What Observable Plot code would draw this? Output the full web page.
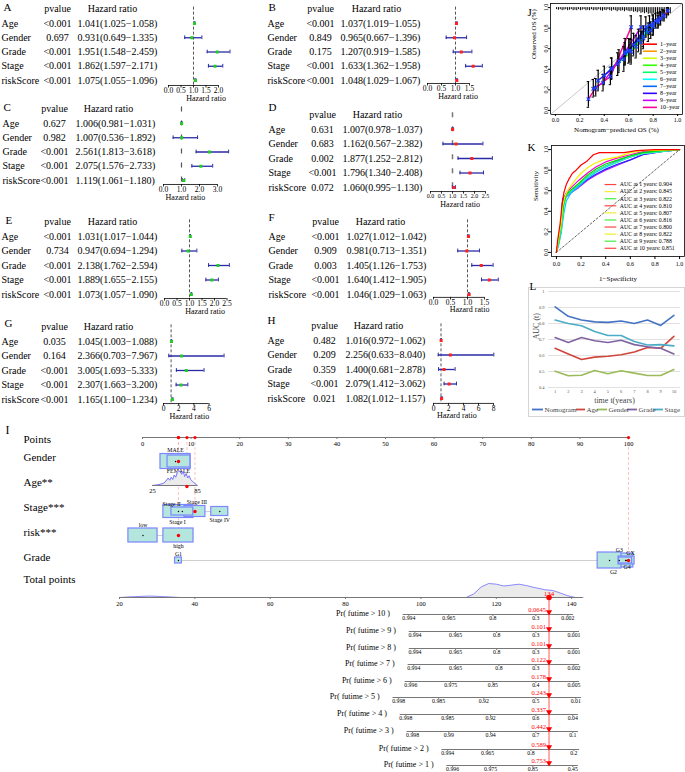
<!DOCTYPE html>
<html><head><meta charset="utf-8">
<script src="https://cdn.jsdelivr.net/npm/d3@7"></script>
<script src="https://cdn.jsdelivr.net/npm/@observablehq/plot@0.6"></script>
<style>
html,body{margin:0;padding:0;background:#fff;overflow:hidden;}
#fig{position:relative;width:685px;height:772px;overflow:hidden;font-family:"Liberation Serif",serif;}
#fig svg text{font-family:"Liberation Serif","Times New Roman",serif;}
#lbox{position:absolute;left:528px;top:287px;width:157px;height:130px;border:1px solid #d4d4d4;box-sizing:border-box;}
</style></head><body><div id="fig"><div id="lbox"></div></div>
<script>
// ================= DATA =================
const forestVars = ["Age","Gender","Grade","Stage","riskScore"];
// A
const pvalA=["<0.001","0.697","<0.001","<0.001","<0.001"], hrA=[1.041,0.931,1.951,1.862,1.075], loA=[1.025,0.649,1.548,1.597,1.055], hiA=[1.058,1.335,2.459,2.171,1.096];
// B
const pvalB=["<0.001","0.849","0.175","<0.001","<0.001"], hrB=[1.037,0.965,1.207,1.633,1.048], loB=[1.019,0.667,0.919,1.362,1.029], hiB=[1.055,1.396,1.585,1.958,1.067];
// C
const pvalC=["0.627","0.982","<0.001","<0.001","<0.001"], hrC=[1.006,1.007,2.561,2.075,1.119], loC=[0.981,0.536,1.813,1.576,1.061], hiC=[1.031,1.892,3.618,2.733,1.180];
// D
const pvalD=["0.631","0.683","0.002","<0.001","0.072"], hrD=[1.007,1.162,1.877,1.796,1.060], loD=[0.978,0.567,1.252,1.340,0.995], hiD=[1.037,2.382,2.812,2.408,1.130];
// E
const pvalE=["<0.001","0.734","<0.001","<0.001","<0.001"], hrE=[1.031,0.947,2.138,1.889,1.073], loE=[1.017,0.694,1.762,1.655,1.057], hiE=[1.044,1.294,2.594,2.155,1.090];
// F
const pvalF=["<0.001","0.909","0.003","<0.001","<0.001"], hrF=[1.027,0.981,1.405,1.640,1.046], loF=[1.012,0.713,1.126,1.412,1.029], hiF=[1.042,1.351,1.753,1.905,1.063];
// G
const pvalG=["0.035","0.164","<0.001","<0.001","<0.001"], hrG=[1.045,2.366,3.005,2.307,1.165], loG=[1.003,0.703,1.693,1.663,1.100], hiG=[1.088,7.967,5.333,3.200,1.234];
// H
const pvalH=["0.482","0.209","0.359","<0.001","0.021"], hrH=[1.016,2.256,1.400,2.079,1.082], loH=[0.972,0.633,0.681,1.412,1.012], hiH=[1.062,8.040,2.878,3.062,1.157];
const ticksA=[0,0.5,1,1.5,2], ticksB=[0,0.5,1,1.5], ticksC=[0,1,2,3], ticksD=[0,0.5,1,1.5,2,2.5],
      ticksE=[0,0.5,1,1.5,2,2.5], ticksF=[0,0.5,1,1.5], ticksG=[0,2,4,6], ticksH=[0,2,4,6,8];

// J calibration
const calibYears=["1\u2212year","2\u2212year","3\u2212year","4\u2212year","5\u2212year","6\u2212year","7\u2212year","8\u2212year","9\u2212year","10\u2212year"];
const calibPred=[[0.80,0.86,0.89,0.92],[0.70,0.78,0.84,0.88],[0.62,0.72,0.80,0.86],[0.56,0.66,0.76,0.84],[0.51,0.61,0.72,0.82],
  [0.46,0.57,0.68,0.80],[0.40,0.52,0.64,0.77],[0.35,0.46,0.60,0.74],[0.31,0.39,0.57,0.70],[0.27,0.33,0.45,0.62]];
const calibObs=[[0.83,0.89,0.92,0.97],[0.66,0.78,0.86,0.93],[0.57,0.70,0.81,0.90],[0.50,0.62,0.76,0.88],[0.45,0.58,0.72,0.87],
  [0.41,0.55,0.68,0.85],[0.34,0.48,0.64,0.83],[0.29,0.40,0.58,0.81],[0.21,0.27,0.57,0.81],[0.11,0.22,0.33,0.81]];
const calibLo=[[0.74,0.83,0.87,0.93],[0.55,0.70,0.80,0.88],[0.45,0.60,0.73,0.84],[0.38,0.51,0.67,0.81],[0.34,0.47,0.62,0.80],
  [0.31,0.44,0.57,0.77],[0.25,0.37,0.53,0.74],[0.19,0.30,0.46,0.71],[0.13,0.19,0.45,0.70],[0.03,0.14,0.25,0.70]];
const calibHi=[[0.92,0.95,0.97,1.0],[0.77,0.86,0.92,0.98],[0.69,0.80,0.89,0.96],[0.62,0.73,0.85,0.95],[0.56,0.69,0.82,0.94],
  [0.51,0.66,0.79,0.93],[0.43,0.59,0.75,0.92],[0.39,0.51,0.70,0.91],[0.30,0.35,0.70,0.92],[0.28,0.31,0.42,0.92]];
const spikePred=[0.01,0.025,0.04,0.055,0.07,0.085,0.1,0.115,0.13,0.145,0.16,0.175,0.19,0.205,0.22,0.235,0.25,0.265,0.28,0.295,
  0.31,0.325,0.34,0.355,0.37,0.385,0.4,0.415,0.43,0.445,0.46,0.475,0.49,0.505,0.52,0.535,0.55,0.565,0.58,0.595,
  0.61,0.625,0.64,0.655,0.67,0.685,0.7,0.715,0.73,0.745,0.76,0.775,0.79,0.805,0.82,0.835,0.85,0.865,0.88,0.895,0.91,0.925,0.94];
const spikeLen=[0.02,0.025,0.02,0.03,0.025,0.02,0.03,0.025,0.02,0.03,0.025,0.03,0.02,0.03,0.025,0.02,0.03,0.025,0.03,0.02,
  0.03,0.025,0.03,0.02,0.03,0.035,0.025,0.03,0.02,0.03,0.035,0.025,0.03,0.04,0.03,0.035,0.03,0.04,0.03,0.035,
  0.04,0.035,0.045,0.04,0.05,0.04,0.055,0.05,0.06,0.05,0.065,0.06,0.07,0.06,0.08,0.07,0.09,0.08,0.1,0.09,0.11,0.08,0.06];

// K ROC
const rocAUC=[0.904,0.845,0.822,0.810,0.807,0.816,0.800,0.822,0.788,0.851];
const rocCurves=[
 [[0,0],[0.01,0.12],[0.02,0.2],[0.03,0.28],[0.04,0.4],[0.05,0.5],[0.06,0.58],[0.08,0.66],[0.1,0.71],[0.13,0.77],[0.16,0.8],[0.2,0.85],[0.25,0.89],[0.3,0.95],[0.35,0.97],[0.55,0.97],[0.65,0.99],[0.8,1],[1,1]],
 [[0,0],[0.02,0.15],[0.04,0.3],[0.05,0.45],[0.07,0.55],[0.1,0.62],[0.15,0.7],[0.2,0.77],[0.25,0.82],[0.3,0.86],[0.38,0.9],[0.5,0.93],[0.6,0.97],[0.7,0.99],[1,1]],
 [[0,0],[0.02,0.12],[0.04,0.28],[0.06,0.47],[0.08,0.56],[0.12,0.61],[0.18,0.67],[0.25,0.75],[0.32,0.81],[0.4,0.86],[0.5,0.9],[0.6,0.94],[0.7,0.97],[0.85,0.99],[1,1]],
 [[0,0],[0.02,0.1],[0.04,0.25],[0.06,0.45],[0.08,0.55],[0.12,0.6],[0.18,0.66],[0.25,0.73],[0.32,0.79],[0.4,0.84],[0.5,0.88],[0.6,0.93],[0.7,0.96],[0.85,0.98],[1,1]],
 [[0,0],[0.02,0.08],[0.04,0.2],[0.06,0.38],[0.08,0.5],[0.12,0.58],[0.18,0.64],[0.25,0.72],[0.32,0.78],[0.4,0.83],[0.5,0.88],[0.6,0.93],[0.7,0.96],[0.85,0.98],[1,1]],
 [[0,0],[0.02,0.1],[0.04,0.22],[0.05,0.45],[0.08,0.55],[0.12,0.59],[0.18,0.65],[0.25,0.73],[0.32,0.79],[0.4,0.84],[0.5,0.89],[0.6,0.93],[0.7,0.97],[0.85,0.99],[1,1]],
 [[0,0],[0.02,0.12],[0.04,0.25],[0.05,0.5],[0.08,0.56],[0.12,0.59],[0.18,0.64],[0.25,0.71],[0.32,0.76],[0.4,0.81],[0.5,0.86],[0.6,0.9],[0.7,0.95],[0.85,0.98],[1,1]],
 [[0,0],[0.02,0.13],[0.04,0.28],[0.05,0.52],[0.08,0.57],[0.12,0.6],[0.18,0.66],[0.25,0.73],[0.32,0.79],[0.4,0.84],[0.5,0.89],[0.6,0.93],[0.7,0.97],[0.85,0.99],[1,1]],
 [[0,0],[0.02,0.11],[0.04,0.24],[0.05,0.48],[0.08,0.54],[0.12,0.58],[0.18,0.63],[0.25,0.7],[0.32,0.75],[0.4,0.8],[0.5,0.85],[0.6,0.9],[0.7,0.95],[0.85,0.98],[1,1]],
 [[0,0],[0.02,0.15],[0.04,0.3],[0.05,0.5],[0.08,0.58],[0.12,0.63],[0.18,0.7],[0.25,0.77],[0.32,0.83],[0.4,0.88],[0.5,0.92],[0.6,0.95],[0.7,0.98],[0.85,0.99],[1,1]]
];

// L time-dependent AUC
const aucYears=[1,2,3,4,5,6,7,8,9,10];
const aucSeries=["Nomogram","Age","Gender","Grade","Stage"];
const aucNomogram=[0.904,0.845,0.822,0.810,0.807,0.816,0.800,0.822,0.788,0.851];
const aucAge=[0.645,0.610,0.575,0.590,0.595,0.605,0.622,0.650,0.645,0.720];
const aucGender=[0.502,0.473,0.477,0.506,0.486,0.505,0.490,0.475,0.475,0.512];
const aucGrade=[0.712,0.682,0.712,0.692,0.681,0.695,0.668,0.655,0.645,0.610];
const aucStage=[0.822,0.800,0.786,0.750,0.725,0.725,0.687,0.666,0.668,0.660];
const aucTicks=[0.4,0.5,0.6,0.7,0.8,0.9,1.0];

// I nomogram
const pointTicks=[0,10,20,30,40,50,60,70,80,90,100];
const genderLevels=["MALE","FEMALE"], genderPts=[6.8,7.5];
const ageTicks=[25,85], ageTickPts=[2.06,11.3];
const ageDensAge=[25,30,35,40,43,46,48,50,52,54,56,58,60,62,64,66,68,70,72,74,76,78,80,83,85];
const ageDensVal=[0,0.03,0.08,0.15,0.3,0.5,0.35,0.55,0.4,0.7,0.55,0.85,1.0,0.9,0.75,0.95,0.6,0.8,0.5,0.65,0.4,0.3,0.2,0.08,0];
const stageLevels=["Stage I","Stage II","Stage III","Stage IV"], stagePts=[7.4,8.2,10.8,15.9];
const riskLevels=["low","high"], riskPts=[0.1,7.4];
const gradeLevels=["G1","G2","G3","GX","G4"], gradePts=[7.4,96.1,98.1,99.6,99.4];
const selGender=7.4, selAge=71, selStage=10.8, selRisk=7.4, selGrade=100;
const totalTicks=[20,40,60,80,100,120,140], totalTickPts=[-4.73,88.3];
const totDensTP=[20,24,28,32,36,112,114,116,118,120,122,124,126,128,130,133,135,137,139,141,143];
const totDensVal=[0,0.06,0.1,0.06,0,0,0.25,0.75,1.0,0.95,0.82,0.88,0.95,0.85,0.72,0.55,0.5,0.32,0.12,0,0];
const totalScore=134;
const prLabels=["Pr( futime > 10 )","Pr( futime > 9 )","Pr( futime > 8 )","Pr( futime > 7 )","Pr( futime > 6 )",
  "Pr( futime > 5 )","Pr( futime > 4 )","Pr( futime > 3 )","Pr( futime > 2 )","Pr( futime > 1 )"];
const prTickTP=[[96.8,107.4,119.1,130.5,139.0],[98.4,109.2,120.1,130.5,140.6],[98.4,109.2,120.1,130.5,140.6],
  [98.1,109.2,120.7,130.5,140.6],[97.3,107.9,119.1,130.5,140.6],[94.1,104.7,116.7,130.5,141.1],
  [96.0,107.1,118.5,130.5,140.3],[97.8,107.4,118.5,130.5,140.3],[107.1,117.7,129.2,140.6],[108.4,118.5,129.7,140.3]];
const prTickLab=[["0.994","0.965","0.8","0.3","0.002"],["0.994","0.965","0.8","0.3","0.001"],["0.994","0.965","0.8","0.3","0.001"],
  ["0.994","0.965","0.8","0.3","0.002"],["0.996","0.975","0.85","0.4","0.005"],["0.998","0.985","0.92","0.5","0.01"],
  ["0.998","0.985","0.92","0.6","0.04"],["0.998","0.99","0.94","0.7","0.1"],["0.994","0.965","0.8","0.2"],["0.996","0.975","0.85","0.45"]];
const prPred=["0.0645","0.101","0.101","0.122","0.178","0.243","0.337","0.442","0.589","0.753"];

// ================= STYLE / LAYOUT =================
const FONT='"Liberation Serif","Times New Roman",serif';
const fig=document.getElementById("fig");
function place(el,left,top){el.style.position="absolute";el.style.left=left+"px";el.style.top=top+"px";fig.appendChild(el);return el;}
const base={fontFamily:FONT,background:"transparent",overflow:"visible",color:"#000"};
const CI="#2a2aa6";
const rainbow10=["#FF0000","#FF9900","#CCFF00","#33FF00","#00FF66","#00FFFF","#0066FF","#3300FF","#CC00FF","#FF0099"];
const rocColors=["#ff0000","#f2f200","#00e000","#33ff99","#00ccff","#3399ff","#2222ff","#7a00ff","#bb22ff","#ff00cc"];
const rocLegendColors=["#ff4444","#eeee33","#44ee44"];
const aucColors=["#4472C4","#D0453C","#9BBB59","#8064A2","#4BACC6"];
const FS=10;

// ================= FOREST PANELS =================
function forest(c){
  const rows=forestVars.map((v,k)=>({i:k+1,v,p:c.p[k],hr:c.hr[k],lo:c.lo[k],hi:c.hi[k]}));
  const top=c.ageY-30, y0=30-c.sp, ax=c.ax, f3=d3.format(".3f");
  const lastT=c.ticks[c.ticks.length-1];
  const svg=Plot.plot({
    width:250,height:120,margin:0,
    x:{domain:[0,1],range:[c.x0,c.x0+c.ppu],axis:null},
    y:{domain:[0,5],range:[y0,y0+5*c.sp],axis:null},
    style:{...base,fontSize:"10px"},
    marks:[
      Plot.text([c.title],{frameAnchor:"left",dx:c.tx,y:()=>c.titleIdx,text:d=>d,textAnchor:"start",fontSize:11}),
      Plot.text(["pvalue"],{frameAnchor:"left",dx:c.colP,y:()=>0,text:d=>d,textAnchor:"middle",fontSize:FS}),
      Plot.text(["Hazard ratio"],{frameAnchor:"left",dx:c.colH,y:()=>0,text:d=>d,textAnchor:"middle",fontSize:FS}),
      Plot.text(rows,{frameAnchor:"left",dx:c.colL,y:"i",text:"v",textAnchor:"start",fontSize:FS}),
      Plot.text(rows,{frameAnchor:"left",dx:c.colP,y:"i",text:"p",textAnchor:"middle",fontSize:FS}),
      Plot.text(rows,{frameAnchor:"left",dx:c.colR,y:"i",text:d=>`${f3(d.hr)}(${f3(d.lo)}\u2212${f3(d.hi)})`,textAnchor:"start",fontSize:FS}),
      Plot.ruleX([1],{y1:-0.15,y2:ax,stroke:c.dashC,strokeWidth:c.dashW,strokeDasharray:c.dash}),
      Plot.ruleY(rows,{y:"i",x1:"lo",x2:"hi",stroke:CI,strokeWidth:1.3}),
      Plot.ruleX(rows,{x:"lo",y1:d=>d.i-0.13,y2:d=>d.i+0.13,stroke:CI,strokeWidth:1}),
      Plot.ruleX(rows,{x:"hi",y1:d=>d.i-0.13,y2:d=>d.i+0.13,stroke:CI,strokeWidth:1}),
      Plot.dot(rows,{x:"hr",y:"i",symbol:"square",r:1.7,fill:c.pt}),
      Plot.ruleY([ax],{x1:c.ticks[0],x2:lastT,stroke:"#000",strokeWidth:0.8}),
      Plot.ruleX(c.ticks,{x:d=>d,y1:ax,y2:ax+0.18,stroke:"#000",strokeWidth:0.8}),
      Plot.text(c.ticks,{x:d=>d,y:()=>ax,dy:5,text:c.fmt,fontSize:c.tickFs||7.5}),
      Plot.text(["Hazard ratio"],{x:()=>c.xlabC,y:()=>ax,dy:12.5,text:d=>d,fontSize:8})
    ]
  });
  place(svg,c.left,top);
}
const f1=d3.format(".1f"), f0=d=>String(d);
const green="#22cc22", red="#ff2020";
forest({title:"A",left:0,ageY:23,sp:14.25,ax:5.35,titleIdx:-0.1,tx:3,colL:1,colP:57,colR:77,colH:112,x0:168,ppu:25,ticks:ticksA,fmt:f1,xlabC:1.5,
  p:pvalA,hr:hrA,lo:loA,hi:hiA,pt:green,dash:"3,2",dashW:0.9,dashC:"#444"});
forest({title:"B",left:250,ageY:23,sp:14.25,ax:5.21,titleIdx:-0.1,tx:18,colL:17,colP:70,colR:90,colH:126,x0:177,ppu:28,ticks:ticksB,fmt:f1,xlabC:1.09,
  p:pvalB,hr:hrB,lo:loB,hi:hiB,pt:red,dash:"3,2",dashW:0.9,dashC:"#444"});
forest({title:"C",left:0,ageY:123,sp:14.25,ax:5.28,titleIdx:-0.1,tx:3,colL:2,colP:54,colR:75,colH:108,x0:163,ppu:18,ticks:ticksC,fmt:f1,xlabC:1.22,
  p:pvalC,hr:hrC,lo:loC,hi:hiC,pt:green,dash:"5,9",dashW:1.2,dashC:"#555"});
forest({title:"D",left:250,ageY:129,sp:14.5,ax:5.28,titleIdx:-0.5,tx:18,colL:18,colP:72,colR:92,colH:127,x0:180,ppu:22,ticks:ticksD,fmt:f1,xlabC:1.35,tickFs:6,
  p:pvalD,hr:hrD,lo:loD,hi:hiD,pt:red,dash:"5,9",dashW:1.5,dashC:"#777"});
forest({title:"E",left:0,ageY:236,sp:14.5,ax:5.28,titleIdx:-0.1,tx:5,colL:1,colP:57,colR:77,colH:112,x0:164,ppu:25,ticks:ticksE,fmt:f1,xlabC:1.62,
  p:pvalE,hr:hrE,lo:loE,hi:hiE,pt:green,dash:"3,2",dashW:0.9,dashC:"#444"});
forest({title:"F",left:250,ageY:236,sp:14.5,ax:5.2,titleIdx:-0.3,tx:18,colL:18,colP:75,colR:96,colH:130,x0:183,ppu:34,ticks:ticksF,fmt:f1,xlabC:1.06,
  p:pvalF,hr:hrF,lo:loF,hi:hiF,pt:red,dash:"3,2",dashW:0.9,dashC:"#444"});
forest({title:"G",left:0,ageY:341,sp:14.5,ax:5.28,titleIdx:-0.25,tx:4,colL:1,colP:54,colR:77,colH:108,x0:163,ppu:7.6,ticks:ticksG,fmt:f0,xlabC:3.4,
  p:pvalG,hr:hrG,lo:loG,hi:hiG,pt:green,dash:"3,2",dashW:0.9,dashC:"#444"});
forest({title:"H",left:250,ageY:340,sp:14.5,ax:5.34,titleIdx:-0.35,tx:17,colL:17,colP:74,colR:95,colH:128,x0:183,ppu:7.5,ticks:ticksH,fmt:f0,xlabC:3.1,
  p:pvalH,hr:hrH,lo:loH,hi:hiH,pt:red,dash:"3,2",dashW:0.9,dashC:"#444"});

// ================= J calibration =================
(function(){
  const data=calibPred.flatMap((ps,k)=>ps.map((p,j)=>({year:calibYears[k],col:rainbow10[k],pred:p,obs:calibObs[k][j],lo:calibLo[k][j],hi:calibHi[k][j]})));
  const spikes=spikePred.map((p,k)=>({p,len:spikeLen[k]}));
  const leg=calibYears.map((y,k)=>({y,k,col:rainbow10[k],ly:0.644-k*0.0683}));
  const t=[0,0.2,0.4,0.6,0.8,1];
  const svg=Plot.plot({
    width:185,height:130,marginLeft:50,marginRight:3,marginTop:3,marginBottom:16,
    x:{domain:[-0.04,1.04]},y:{domain:[-0.04,1.04]},color:{type:"identity"},
    style:{...base,fontSize:"6px"},
    marks:[
      Plot.frame({stroke:"#000",strokeWidth:0.8}),
      Plot.line([[-0.04,-0.04],[1.04,1.04]],{stroke:"#c8c8c8",strokeWidth:1}),
      Plot.ruleX(spikes,{x:"p",y1:()=>1.0,y2:d=>1.0-d.len,stroke:"#000",strokeWidth:1}),
      Plot.line(data,{x:"pred",y:"obs",z:"year",stroke:"col",strokeWidth:1.4}),
      Plot.ruleX(data,{x:"pred",y1:"lo",y2:"hi",stroke:"#000",strokeWidth:1.2}),
      Plot.ruleY(data,{y:"lo",x1:d=>d.pred-0.01,x2:d=>d.pred+0.01,stroke:"#000",strokeWidth:1}),
      Plot.ruleY(data,{y:"hi",x1:d=>d.pred-0.01,x2:d=>d.pred+0.01,stroke:"#000",strokeWidth:1}),
      Plot.dot(data,{x:"pred",y:"obs",symbol:"times",r:1.8,stroke:"#1f3fff",strokeWidth:1.1}),
      Plot.ruleY(leg,{y:"ly",x1:()=>0.72,x2:()=>0.835,stroke:"col",strokeWidth:1.6}),
      Plot.text(leg,{x:()=>0.855,y:"ly",text:"y",textAnchor:"start",fontSize:6}),
      Plot.axisX({ticks:t,tickFormat:".1f",tickSize:2,tickPadding:1,label:null,fontSize:6}),
      Plot.axisY({ticks:t,tickFormat:".1f",tickSize:2,tickPadding:1,tickRotate:-90,label:null,fontSize:6}),
      Plot.text(["Nomogram\u2212predicted OS (%)"],{frameAnchor:"bottom",dy:17,text:d=>d,fontSize:7}),
      Plot.text(["Observed OS (%)"],{frameAnchor:"left",dx:-17,rotate:-90,text:d=>d,fontSize:7}),
      Plot.text(["J"],{frameAnchor:"top-left",dx:-23,dy:5,text:d=>d,textAnchor:"start",fontSize:11})
    ]
  });
  place(svg,500,0);
})();

// ================= K ROC =================
(function(){
  const lines=rocCurves.flatMap((c,k)=>c.map(([x,y])=>({k,x,y,col:rocColors[k]}))).reverse();
  const leg=rocAUC.map((a,k)=>({lab:`AUC at ${k+1} years: ${a.toFixed(3)}`,col:rocLegendColors[k%3],ly:0.66-k*0.0689}));
  const t=[0,0.2,0.4,0.6,0.8,1];
  const svg=Plot.plot({
    width:185,height:150,marginLeft:51,marginRight:1,marginTop:15,marginBottom:24,
    x:{domain:[-0.04,1.04]},y:{domain:[-0.04,1.04]},color:{type:"identity"},
    style:{...base,fontSize:"6px"},
    marks:[
      Plot.frame({stroke:"#000",strokeWidth:0.8}),
      Plot.line([[0,0],[1,1]],{stroke:"#555",strokeWidth:0.9,strokeDasharray:"2,2"}),
      Plot.line(lines,{x:"x",y:"y",z:"k",stroke:"col",strokeWidth:1.2}),
      Plot.ruleY(leg,{y:"ly",x1:()=>0.395,x2:()=>0.49,stroke:"col",strokeWidth:1.2}),
      Plot.text(leg,{x:()=>0.515,y:"ly",text:"lab",textAnchor:"start",fontSize:5.8}),
      Plot.axisX({ticks:t,tickFormat:".1f",tickSize:3,tickPadding:2,label:null,fontSize:6}),
      Plot.axisY({ticks:t,tickFormat:".1f",tickSize:3,tickPadding:1,tickRotate:-90,label:null,fontSize:6}),
      Plot.text(["1\u2212Specificity"],{frameAnchor:"bottom",dy:24,text:d=>d,fontSize:7}),
      Plot.text(["Sensitivity"],{frameAnchor:"left",dx:-16,rotate:-90,text:d=>d,fontSize:7}),
      Plot.text(["K"],{frameAnchor:"top-left",dx:-24,dy:-2,text:d=>d,textAnchor:"start",fontSize:11})
    ]
  });
  place(svg,500,130);
})();

// ================= L time AUC =================
(function(){
  const vals=[aucNomogram,aucAge,aucGender,aucGrade,aucStage];
  const data=aucSeries.flatMap((s,k)=>aucYears.map((yr,j)=>({s,yr,v:vals[k][j],col:aucColors[k]})));
  const px2x=px=>0.5+(px-48)/13.2;
  const legItems=[[32,43],[76,85],[97,107],[127,137],[153,163]];
  const leg=aucSeries.map((s,k)=>({s,col:aucColors[k],x1:px2x(legItems[k][0]),x2:px2x(legItems[k][1]),tx:px2x(legItems[k][1]+1)}));
  const ly=0.4-(139-117)/160;
  const svg=Plot.plot({
    width:185,height:150,marginLeft:48,marginRight:5,marginTop:21,marginBottom:33,
    x:{domain:[0.5,10.5]},y:{domain:[0.4,1.0]},color:{type:"identity"},
    style:{...base,fontSize:"5px"},
    marks:[
      Plot.gridY(aucTicks,{stroke:"#d9d9d9",strokeOpacity:1,strokeWidth:0.8}),
      Plot.line(data,{x:"yr",y:"v",z:"s",stroke:"col",strokeWidth:1.6}),
      Plot.axisY({ticks:aucTicks,tickFormat:d=>d===1?"1":d.toFixed(1),tickSize:0,tickPadding:4,label:null,fontSize:4.5,fill:"#555"}),
      Plot.axisX({ticks:aucYears,tickSize:0,tickPadding:2.5,label:null,fontSize:4.5,fill:"#555"}),
      Plot.text(["time t(years)"],{frameAnchor:"bottom",dy:15,text:d=>d,fontSize:8,fill:"#444"}),
      Plot.text(["AUC (t)"],{frameAnchor:"left",dx:-12,rotate:-90,text:d=>d,fontSize:8,fill:"#444"}),
      Plot.ruleY(leg,{y:()=>ly,x1:"x1",x2:"x2",stroke:"col",strokeWidth:1.8}),
      Plot.text(leg,{x:"tx",y:()=>ly,text:"s",textAnchor:"start",fontSize:7,fill:"#444"}),
      Plot.text(["L"],{frameAnchor:"top-left",dx:-19,dy:-9,text:d=>d,textAnchor:"start",fontSize:11})
    ]
  });
  place(svg,500,270);
})();

// ================= I nomogram =================
(function(){
  const R={points:19,gender:43,age:67,stage:93,risk:117,grade:142,total:179};
  const prY=[196,213,230,246,263,279,296,313,331,347];
  const labY={"Points":21,"Gender":39,"Age**":64,"Stage***":89,"risk***":114,"Grade":139,"Total points":161};
  const ageToPts=d3.scaleLinear().domain(ageTicks).range(ageTickPts);
  const totToPts=d3.scaleLinear().domain([totalTicks[0],totalTicks[totalTicks.length-1]]).range(totalTickPts);
  // level boxes: width (points), height (px), label side, label x (points)
  const mk=(levels,pts,w,h,pos,lx,row)=>levels.map((name,k)=>({name,p:pts[k],w:w[k],h:h[k],pos:pos[k],lx:lx[k],row}));
  const gB=mk(genderLevels,genderPts,[6.2,4.7],[15,12],["above","below"],[6.8,7.4],R.gender);
  const sB=mk(stageLevels,stagePts,[6.2,4.5,4.3,3.5],[13,8,11,9],["below","above","above","below"],[7.2,6.0,11.2,15.9],R.stage);
  const rB=mk(riskLevels,riskPts,[6.0,6.2],[14,14],["above","below"],[0.1,7.4],R.risk);
  const grB=mk(gradeLevels,gradePts,[1.4,4.9,5.8,3.3,2.7],[6,16,14,8,6],["above","below","above","above","below"],[7.4,96.9,98.1,100.4,99.7],R.grade);
  const boxes=[...gB,...sB,...rB,...grB].sort((a,b)=>b.w*b.h-a.w*a.h);
  const conn=[sB,rB,grB].map(B=>({row:B[0].row,a:d3.min(B,d=>d.p-d.w/2),b:d3.max(B,d=>d.p+d.w/2)}));
  const sel=[{p:selGender,row:R.gender},{p:ageToPts(selAge),row:R.age+1},{p:selStage,row:R.stage},{p:selRisk,row:R.risk},{p:selGrade,row:R.grade}];
  const ageD=ageDensAge.map((a,k)=>({x:ageToPts(a),v:ageDensVal[k]}));
  const totD=totDensTP.map((t,k)=>({x:totToPts(t),v:totDensVal[k]}));
  const prRows=prLabels.map((lab,k)=>({lab,y:prY[k],tp:prTickTP[k],tl:prTickLab[k],pred:prPred[k]}));
  const prTicks=prRows.flatMap(r=>r.tp.map((t,j)=>({x:totToPts(t),y:r.y,lab:r.tl[j]})));
  const triDown={draw(ctx,size){const r=Math.sqrt(size)*0.62;ctx.moveTo(-r,-r*0.9);ctx.lineTo(r,-r*0.9);ctx.lineTo(0,r*0.8);ctx.closePath();}};
  const tx=totToPts(totalScore);
  const svg=Plot.plot({
    width:685,height:354,margin:0,
    x:{domain:[0,100],range:[142,628],axis:null},
    y:{domain:[0,354],range:[0,354],axis:null},
    style:{...base,fontSize:"8px"},
    marks:[
      Plot.text(["I"],{frameAnchor:"top-left",dx:5,dy:7,text:d=>d,textAnchor:"start",fontSize:12}),
      Plot.text(Object.keys(labY),{frameAnchor:"left",dx:23,y:d=>labY[d],text:d=>d,textAnchor:"start",fontSize:11}),
      Plot.ruleX(sel,{x:"p",y1:()=>R.points,y2:"row",stroke:"#ffb3b3",strokeWidth:0.8,strokeDasharray:"3,2"}),
      Plot.ruleY([R.points],{x1:0,x2:100,stroke:"#777",strokeWidth:1}),
      Plot.ruleX(pointTicks,{x:d=>d,y1:()=>R.points,y2:()=>R.points+2,stroke:"#777"}),
      Plot.text(pointTicks,{x:d=>d,y:()=>R.points,dy:6,text:d=>String(d),fontSize:6.5}),
      Plot.ruleY(conn,{y:"row",x1:"a",x2:"b",stroke:"#cfcfcf",strokeWidth:1}),
      Plot.rect(boxes,{x1:d=>d.p-d.w/2,x2:d=>d.p+d.w/2,y1:d=>d.row-d.h/2,y2:d=>d.row+d.h/2,fill:"#b4e6dd",stroke:"#7b86ff",strokeWidth:1.2}),
      Plot.dot(boxes,{x:"p",y:"row",r:0.7,fill:"#000"}),
      Plot.text(boxes,{x:"lx",y:d=>d.pos==="above"?d.row-d.h/2-3.5:d.row+d.h/2+4,text:"name",fontSize:5.8}),
      Plot.areaY(ageD,{x:"x",y1:()=>R.age,y2:d=>R.age-d.v*15,fill:"#ebebeb"}),
      Plot.line(ageD,{x:"x",y:d=>R.age-d.v*15,stroke:"#6a6aff",strokeWidth:0.9}),
      Plot.ruleY([R.age],{x1:ageToPts(ageTicks[0]),x2:ageToPts(ageTicks[1]),stroke:"#777"}),
      Plot.text(ageTicks,{x:d=>ageToPts(d),y:()=>R.age,dy:5,text:d=>String(d),fontSize:6.5}),
      Plot.dot(sel,{x:"p",y:"row",r:1.7,fill:"#ff0000"}),
      Plot.dot(sel,{x:"p",y:()=>R.points,r:1.6,fill:"#ff0000"}),
      Plot.areaY(totD,{x:"x",y1:()=>R.total,y2:d=>R.total-d.v*14,fill:"#ebebeb"}),
      Plot.line(totD,{x:"x",y:d=>R.total-d.v*14,stroke:"#8080ff",strokeWidth:0.9}),
      Plot.ruleY([R.total],{x1:totToPts(20),x2:totToPts(143),stroke:"#777"}),
      Plot.ruleX(totalTicks,{x:d=>totToPts(d),y1:()=>R.total,y2:()=>R.total+2,stroke:"#777"}),
      Plot.text(totalTicks,{x:d=>totToPts(d),y:()=>R.total,dy:6,text:d=>String(d),fontSize:6.5}),
      Plot.ruleY(prRows,{y:"y",x1:d=>totToPts(d.tp[0]-1.5),x2:d=>totToPts(d.tp[d.tp.length-1]+1.5),stroke:"#777"}),
      Plot.ruleX(prTicks,{x:"x",y1:"y",y2:d=>d.y+2,stroke:"#777"}),
      Plot.text(prTicks,{x:"x",y:"y",dy:4,text:"lab",fontSize:5.8}),
      Plot.text(prRows,{x:d=>totToPts(d.tp[0]),y:"y",dx:-19,dy:-1,text:"lab",textAnchor:"end",fontSize:8}),
      Plot.ruleX([totalScore],{x:d=>totToPts(d),y1:()=>R.total,y2:()=>prY[prY.length-1],stroke:"#ff7070",strokeOpacity:0.6,strokeWidth:2}),
      Plot.dot([totalScore],{x:d=>totToPts(d),y:()=>R.total,r:2.8,fill:"#ff0000"}),
      Plot.text([totalScore],{x:d=>totToPts(d),y:()=>R.total,dy:-4,text:d=>String(d),fill:"#ff0000",fontSize:7}),
      Plot.dot(prRows,{x:()=>tx,y:d=>d.y-1.5,symbol:triDown,r:2.8,fill:"#ff0000"}),
      Plot.text(prRows,{x:()=>tx,y:"y",dx:-3,dy:-4.5,text:"pred",textAnchor:"end",fill:"#ff0000",fontSize:6.5})
    ]
  });
  place(svg,0,418);
})();
</script></body></html>
